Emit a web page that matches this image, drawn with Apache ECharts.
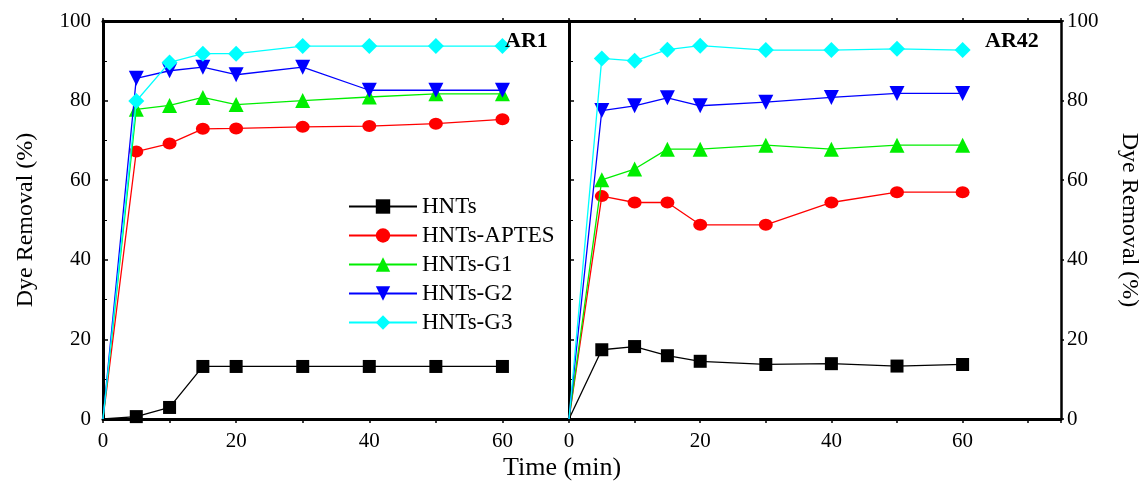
<!DOCTYPE html>
<html>
<head>
<meta charset="utf-8">
<script src="https://cdn.jsdelivr.net/npm/echarts@6/dist/echarts.min.js"></script>
<style>
  html, body { margin: 0; padding: 0; background: #fff; }
  #main { width: 1142px; height: 490px; }
</style>
</head>
<body>
<div id="main"></div>
<script>
// time points (min)
var times = [0, 5, 10, 15, 20, 30, 40, 50, 60];
var seriesNames = ['HNTs', 'HNTs-APTES', 'HNTs-G1', 'HNTs-G2', 'HNTs-G3'];

// AR1 panel
var ar1HNTs  = [0, 0.6, 2.9, 13.2, 13.2, 13.2, 13.2, 13.2, 13.2];
var ar1APTES = [0, 67.2, 69.2, 72.9, 73.0, 73.4, 73.6, 74.2, 75.3];
var ar1G1    = [0, 77.8, 78.8, 80.8, 79.0, 80.0, 80.9, 81.7, 81.7];
var ar1G2    = [0, 85.6, 87.5, 88.4, 86.5, 88.4, 82.6, 82.6, 82.6];
var ar1G3    = [0, 79.9, 89.6, 91.8, 91.8, 93.7, 93.7, 93.7, 93.7];

// AR42 panel
var ar42HNTs  = [0, 17.4, 18.2, 15.9, 14.5, 13.7, 13.9, 13.3, 13.7];
var ar42APTES = [0, 56.0, 54.4, 54.4, 48.8, 48.8, 54.4, 57.0, 57.0];
var ar42G1    = [0, 60.1, 62.8, 67.8, 67.8, 68.8, 67.8, 68.8, 68.8];
var ar42G2    = [0, 77.5, 78.7, 80.7, 78.7, 79.6, 80.8, 81.8, 81.8];
var ar42G3    = [0, 90.6, 90.0, 92.8, 93.8, 92.7, 92.7, 93.0, 92.7];

var colors = ['#000000', '#ff0000', '#00ee00', '#0000ff', '#00ffff'];
var symbols = ['rect', 'circle', 'triangle', 'triangle', 'diamond'];
var symbolSizes = [13, [14, 12], 15, 15, 16];
var symbolRotates = [0, 0, 0, 180, 0];

var serif = 'Liberation Serif';

var chart = echarts.init(document.getElementById('main'));

function pairs(values){
    return times.map(function(t, i){
        // marker at origin is hidden in the original plot
        if (i === 0) return { value: [t, values[i]], symbolSize: 0 };
        return [t, values[i]];
    });
}

function makeSeries(values, idx, gridIdx){
    return {
        name: seriesNames[idx],
        type: 'line',
        xAxisIndex: gridIdx === 0 ? 0 : 2,
        yAxisIndex: gridIdx === 0 ? 0 : 2,
        data: pairs(values),
        symbol: symbols[idx],
        symbolSize: symbolSizes[idx],
        symbolRotate: symbolRotates[idx],
        showAllSymbol: true,
        clip: false,
        lineStyle: { color: colors[idx], width: 1.3 },
        itemStyle: { color: colors[idx] },
        emphasis: { disabled: true },
        animation: false,
        z: 3 + idx
    };
}

function xLabel(v){
    return v % 20 === 0 && v <= 60 ? String(v) : '';
}

var axisLine = { show: true, onZero: false, lineStyle: { color: '#000', width: 3 } };
var tickLine = { color: '#000', width: 1.5 };

var option = {
    backgroundColor: '#fff',
    animation: false,
    grid: [
        { left: 103, top: 21, width: 466, height: 398 },
        { left: 569, top: 21, width: 493, height: 398 }
    ],
    legend: {
        data: seriesNames,
        orient: 'vertical',
        left: 343,
        top: 190,
        itemWidth: 68,
        itemHeight: 18,
        itemGap: 6,
        textStyle: { fontFamily: serif, fontSize: 23, color: '#000' },
        selectedMode: false
    },
    xAxis: [
        { gridIndex: 0, type: 'value', min: 0, max: 70, interval: 10, position: 'bottom',
          axisLine: axisLine, axisTick: { show: true, inside: false, length: 4, lineStyle: tickLine },
          axisLabel: { formatter: xLabel, fontFamily: serif, fontSize: 21, color: '#000', margin: 12 },
          splitLine: { show: false } },
        { gridIndex: 0, type: 'value', min: 0, max: 70, interval: 10, position: 'top',
          axisLine: axisLine, axisTick: { show: true, inside: false, length: 3, lineStyle: tickLine },
          axisLabel: { show: false }, splitLine: { show: false } },
        { gridIndex: 1, type: 'value', min: 0, max: 75, interval: 10, position: 'bottom',
          axisLine: axisLine, axisTick: { show: true, inside: false, length: 4, lineStyle: tickLine },
          axisLabel: { formatter: xLabel, fontFamily: serif, fontSize: 21, color: '#000', margin: 12 },
          splitLine: { show: false } },
        { gridIndex: 1, type: 'value', min: 0, max: 75, interval: 10, position: 'top',
          axisLine: axisLine, axisTick: { show: true, inside: false, length: 3, lineStyle: tickLine },
          axisLabel: { show: false }, splitLine: { show: false } }
    ],
    yAxis: [
        { gridIndex: 0, type: 'value', min: 0, max: 100, interval: 20, position: 'left',
          name: 'Dye Removal (%)', nameLocation: 'middle', nameGap: 65, nameRotate: 90,
          nameTextStyle: { fontFamily: serif, fontSize: 24, color: '#000' },
          axisLine: axisLine,
          axisTick: { show: true, inside: true, length: 5, lineStyle: tickLine },
          minorTick: { show: true, splitNumber: 2, length: 4, lineStyle: { color: '#000', width: 1 } },
          axisLabel: { fontFamily: serif, fontSize: 21, color: '#000', margin: 12 },
          splitLine: { show: false } },
        { gridIndex: 1, type: 'value', min: 0, max: 100, interval: 20, position: 'left',
          axisLine: axisLine,
          axisTick: { show: true, inside: true, length: 5, lineStyle: tickLine },
          minorTick: { show: true, splitNumber: 2, length: 4, lineStyle: { color: '#000', width: 1 } },
          axisLabel: { show: false }, splitLine: { show: false } },
        { gridIndex: 1, type: 'value', min: 0, max: 100, interval: 20, position: 'right',
          name: 'Dye Removal (%)', nameLocation: 'middle', nameGap: 56, nameRotate: -90,
          nameTextStyle: { fontFamily: serif, fontSize: 24, color: '#000' },
          axisLine: { show: true, onZero: false, lineStyle: { color: '#000', width: 2.5 } },
          axisTick: { show: true, inside: false, length: 3, lineStyle: tickLine },
          axisLabel: { fontFamily: serif, fontSize: 21, color: '#000', margin: 6 },
          splitLine: { show: false } }
    ],
    graphic: [
        { type: 'text', left: 505, top: 30, z: 100,
          style: { text: 'AR1', font: 'bold 22px "Liberation Serif"', fill: '#000' } },
        { type: 'text', left: 985, top: 30, z: 100,
          style: { text: 'AR42', font: 'bold 22px "Liberation Serif"', fill: '#000' } },
        { type: 'text', left: 503, top: 455, z: 100,
          style: { text: 'Time (min)', font: '26px "Liberation Serif"', fill: '#000' } }
    ],
    series: [
        makeSeries(ar1HNTs, 0, 0),
        makeSeries(ar1APTES, 1, 0),
        makeSeries(ar1G1, 2, 0),
        makeSeries(ar1G2, 3, 0),
        makeSeries(ar1G3, 4, 0),
        makeSeries(ar42HNTs, 0, 1),
        makeSeries(ar42APTES, 1, 1),
        makeSeries(ar42G1, 2, 1),
        makeSeries(ar42G2, 3, 1),
        makeSeries(ar42G3, 4, 1)
    ]
};

chart.setOption(option);
</script>
</body>
</html>
